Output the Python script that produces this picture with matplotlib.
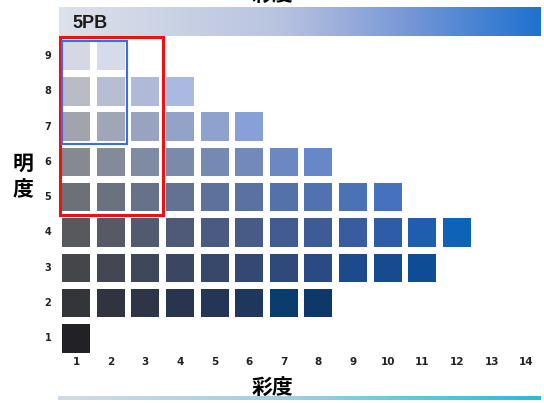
import numpy as np
import matplotlib
matplotlib.use("Agg")
import matplotlib.pyplot as plt
from matplotlib.patches import Rectangle
from matplotlib.colors import LinearSegmentedColormap

# ---- data ----
hue_label = "5PB"
chroma_ticks = list(range(1, 15))
value_ticks = list(range(1, 10))

row9 = ["#d5d8e2", "#d6dbec"]
row8 = ["#babcc4", "#b8bed1", "#b0b9d7", "#aab9e0"]
row7 = ["#a1a4ab", "#9fa6b6", "#98a3bf", "#93a3c7", "#8ea2cd", "#87a1d6"]
row6 = ["#86898f", "#848a99", "#7f8aa3", "#7b8aab", "#7689b2", "#7289ba", "#6b88c2", "#6788c8"]
row5 = ["#6d7075", "#6b717f", "#67718a", "#637192", "#5e719a", "#5a71a2", "#5571a9", "#5172b0",
        "#4c72b6", "#4672bd"]
row4 = ["#58595d", "#555a66", "#525a6f", "#4e5a78", "#4a5a80", "#465b88", "#425b90", "#3d5b97",
        "#385c9f", "#2f5ca6", "#1f5eae", "#0e62b8"]
row3 = ["#45464a", "#424752", "#3f475a", "#3b4762", "#37486a", "#334872", "#2e497a", "#294a82",
        "#1d4a8a", "#174b90", "#0e4c96"]
row2 = ["#333538", "#2f3440", "#2d3547", "#29354f", "#253556", "#1f365d", "#0a3c6d", "#0d3869"]
row1 = ["#222226"]

rows = {9: row9, 8: row8, 7: row7, 6: row6, 5: row5, 4: row4, 3: row3, 2: row2, 1: row1}

# ---- figure ----
W, H = 544, 403
fig = plt.figure(figsize=(W / 100, H / 100), dpi=100)
ax = fig.add_axes([0, 0, 1, 1])
ax.set_xlim(-1.194, 14.510)
ax.set_ylim(-0.830, 10.586)
ax.axis("off")

cw, ch = 0.808, 0.807
for v, cols in rows.items():
    xs = np.arange(1, len(cols) + 1)
    ax.bar(xs, ch, bottom=v - ch / 2, width=cw, color=cols, linewidth=0)

# tick labels
for c in chroma_ticks:
    ax.text(c, 0.33, str(c), ha="center", va="center", fontsize=7.5,
            fontweight="bold", color="#222222", family="DejaVu Sans")
for v in value_ticks:
    ax.text(0.19, v, str(v), ha="center", va="center", fontsize=7,
            fontweight="bold", color="#222222", family="DejaVu Sans")

cjk = ["Noto Sans CJK JP", "DejaVu Sans"]
ax.text(-0.53, 5.97, "明", ha="center", va="center", fontsize=15, fontweight="bold", family=cjk)
ax.text(-0.53, 5.20, "度", ha="center", va="center", fontsize=15, fontweight="bold", family=cjk)
ax.text(6.66, -0.377, "彩度", ha="center", va="center", fontsize=15, fontweight="bold", family=cjk)
ax.text(6.66, 10.44, "彩度", ha="center", va="bottom", fontsize=15, fontweight="bold", family=cjk)

# top gradient band
band_cmap = LinearSegmentedColormap.from_list(
    "band", [(0.0, "#dde1ea"), (0.45, "#b9c4e0"), (0.6, "#98acdb"), (0.75, "#6f93d6"), (1.0, "#1e72cf")])
grad = np.linspace(0, 1, 256).reshape(1, -1)
ax.imshow(grad, cmap=band_cmap, aspect="auto", extent=[0.509, 14.395, 9.567, 10.388],
          interpolation="bilinear", zorder=0)
ax.text(0.885, 9.92, hue_label, ha="left", va="center", fontsize=13, fontweight="bold",
        family=["Liberation Sans Narrow", "Liberation Sans", "DejaVu Sans"], color="#1a1a1a")

# bottom gradient line
line_cmap = LinearSegmentedColormap.from_list("line", [(0.0, "#d2dbe2"), (0.5, "#9ccfe0"), (1.0, "#28bcd6")])
ax.imshow(grad, cmap=line_cmap, aspect="auto", extent=[0.48, 14.395, -0.745, -0.66],
          interpolation="bilinear", zorder=0)

# highlight rectangles
ax.add_patch(Rectangle((0.538, 4.496), 3.497 - 0.538, 9.524 - 4.496, fill=False,
                       edgecolor="#ee1111", linewidth=2.2, zorder=5))
ax.add_patch(Rectangle((0.604, 6.507), 2.481 - 0.604, 9.433 - 6.507, fill=False,
                       edgecolor="#3a6cf0", linewidth=1.5, zorder=6))

ax.set_xlim(-1.194, 14.510)
ax.set_ylim(-0.830, 10.586)
fig.savefig("out.png", dpi=100)
